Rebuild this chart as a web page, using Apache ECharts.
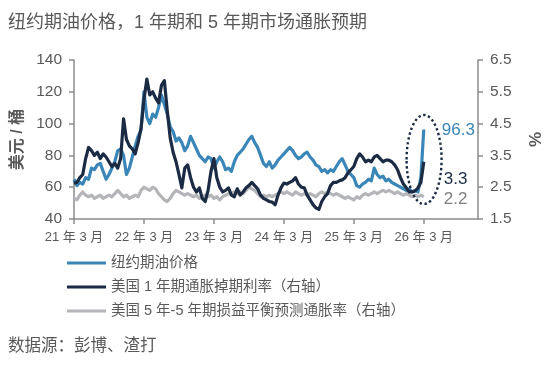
<!DOCTYPE html>
<html><head><meta charset="utf-8">
<script src="https://cdn.jsdelivr.net/npm/echarts@6/dist/echarts.min.js"></script>
<style>html,body{margin:0;padding:0;background:#fff}#c{width:558px;height:378px}</style>
</head><body><div id="c"></div>
<script>
// x tick labels (one per year, March)
const xTickLabels = ['21 年 3 月','22 年 3 月','23 年 3 月','24 年 3 月','25 年 3 月','26 年 3 月'];
// observations are every half month starting Mar 2021
const stepMonths = 0.5;
// NYMEX WTI oil price, USD/bbl (left axis)
const oil = [65,61,63,62,66,65,72,71,74,75,70,65,68,72,76,83,84,80,68,72,
79,86,92,96,120,104,100,106,104,110,118,112,106,98,95,89,91,88,83,86,
92,88,84,80,78,76,79,78,72,76,79,76,71,72,70,76,80,82,84,87,
90,92,88,85,80,75,73,76,72,74,77,79,81,83,85,83,80,78,79,81,
82,79,77,74,73,70,71,69,71,70,73,76,78,74,70,68,66,61,60,62,
63,65,64,72,68,66,67,64,65,63,62,61,60,59,58,59,57,58,57,66,96.3];
// US 1-year inflation swap rate, % (right axis)
const swap1y = [2.63,2.65,2.80,2.90,3.40,3.75,3.65,3.50,3.60,3.40,3.55,3.45,3.30,3.15,3.25,3.10,3.40,4.65,4.00,3.80,
3.70,3.55,3.90,4.35,5.25,5.90,5.40,5.50,5.30,5.15,5.70,5.85,4.90,4.05,3.60,3.30,2.90,2.48,3.10,3.20,
2.80,2.50,2.35,2.48,2.15,2.05,2.40,3.00,3.40,2.80,2.50,2.35,2.40,2.48,2.25,2.20,2.45,2.25,2.35,2.48,
2.55,2.65,2.55,2.45,2.25,2.15,2.10,2.05,2.03,1.95,2.25,2.48,2.63,2.60,2.65,2.70,2.80,2.60,2.50,2.48,
2.25,2.10,1.95,1.85,1.80,2.05,2.20,2.30,2.55,2.65,2.65,2.70,2.73,2.80,2.95,3.05,3.15,3.40,3.55,3.45,
3.30,3.35,3.30,3.45,3.50,3.40,3.30,3.35,3.35,3.30,3.20,3.05,2.80,2.60,2.48,2.35,2.35,2.38,2.48,2.65,3.30];
// US 5y5y breakeven inflation rate, % (right axis)
const be5y5y = [2.15,2.10,2.25,2.35,2.25,2.20,2.25,2.15,2.20,2.25,2.15,2.20,2.25,2.20,2.30,2.40,2.30,2.20,2.25,2.15,
2.20,2.25,2.20,2.40,2.50,2.45,2.40,2.50,2.45,2.30,2.20,2.10,2.05,2.15,2.30,2.40,2.35,2.30,2.25,2.30,
2.25,2.20,2.25,2.15,2.20,2.25,2.20,2.25,2.15,2.20,2.10,2.20,2.25,2.30,2.30,2.35,2.30,2.35,2.30,2.40,
2.50,2.45,2.40,2.30,2.20,2.25,2.20,2.25,2.20,2.25,2.30,2.35,2.30,2.35,2.30,2.25,2.35,2.30,2.25,2.30,
2.25,2.30,2.25,2.20,2.30,2.35,2.30,2.35,2.30,2.25,2.30,2.25,2.20,2.15,2.20,2.15,2.10,2.20,2.15,2.25,
2.30,2.25,2.30,2.35,2.30,2.35,2.40,2.35,2.40,2.35,2.30,2.35,2.30,2.25,2.30,2.25,2.20,2.25,2.20,2.25,2.20];
const leftTicks = {min:40, max:140, interval:20};
const rightTicks = {min:1.5, max:6.5, interval:1};
const names = ['纽约期油价格','美国 1 年期通胀掉期利率（右轴）','美国 5 年-5 年期损益平衡预测通胀率（右轴）'];

const C_BLUE='#3A86B8', C_NAVY='#1C2B44', C_GRAY='#B4B5B8', C_TXT='#595959', C_AX='#8C8C8C';
const FONT='"Liberation Sans", Arial, "Noto Sans CJK SC", sans-serif';
const pair = arr => arr.map((v,i)=>[i*stepMonths, v]);

const chart = echarts.init(document.getElementById('c'), null, {renderer:'canvas'});
const axisCommon = {
  axisLine:{show:true,lineStyle:{color:C_AX,width:1.5}},
  axisTick:{show:true,length:5,lineStyle:{color:C_AX,width:1.5}},
  splitLine:{show:false}
};
chart.setOption({
  animation:false,
  textStyle:{fontFamily:FONT},
  title:[
    {text:'纽约期油价格，1 年期和 5 年期市场通胀预期',left:3,top:9,textStyle:{fontSize:18,fontWeight:'normal',color:C_TXT,fontFamily:FONT}},
    {text:'数据源：彭博、渣打',left:3,top:333,textStyle:{fontSize:16.5,fontWeight:'normal',color:C_TXT,fontFamily:FONT}}
  ],
  grid:{left:74,right:80,top:60,bottom:159,containLabel:false},
  legend:{
    orient:'vertical',left:67,top:255,padding:0,itemGap:8,
    itemWidth:39,itemHeight:3,icon:'rect',
    textStyle:{fontSize:14.5,lineHeight:16,color:C_TXT,fontFamily:FONT},
    data:names
  },
  xAxis:Object.assign({type:'value',min:0,max:69.3,interval:12,
    axisLabel:{margin:12,fontSize:13,color:C_TXT,fontFamily:FONT,showMaxLabel:false,
      formatter:v=>{const k=Math.round(v/12);return Math.abs(v-12*k)<1e-6&&xTickLabels[k]?xTickLabels[k]:'';}}
  },axisCommon),
  yAxis:[
    Object.assign({type:'value',position:'left',min:leftTicks.min,max:leftTicks.max,interval:leftTicks.interval,
      name:'美元 / 桶',nameLocation:'middle',nameGap:46,nameRotate:90,
      nameTextStyle:{fontSize:16,fontWeight:'bold',color:C_TXT,fontFamily:FONT},
      axisLabel:{margin:12,fontSize:15.5,color:C_TXT,fontFamily:FONT}},axisCommon),
    Object.assign({type:'value',position:'right',min:rightTicks.min,max:rightTicks.max,interval:rightTicks.interval,
      name:'%',nameLocation:'middle',nameGap:50,nameRotate:90,
      nameTextStyle:{fontSize:17,fontWeight:'bold',color:C_TXT,fontFamily:FONT},
      axisLabel:{margin:12,fontSize:15.5,color:C_TXT,fontFamily:FONT,formatter:v=>v.toFixed(1)}},axisCommon)
  ],
  series:[
    {name:names[0],type:'line',yAxisIndex:0,data:pair(oil),symbol:'none',z:3,
      lineStyle:{color:C_BLUE,width:3.2,join:'round'},itemStyle:{color:C_BLUE},
      endLabel:{show:true,formatter:'96.3',color:C_BLUE,fontSize:17,fontFamily:FONT,offset:[10,1]}},
    {name:names[1],type:'line',yAxisIndex:1,data:pair(swap1y),symbol:'none',z:4,
      lineStyle:{color:C_NAVY,width:3.2,join:'round'},itemStyle:{color:C_NAVY},
      endLabel:{show:true,formatter:'3.3',color:C_NAVY,fontSize:17,fontFamily:FONT,offset:[12,18]}},
    {name:names[2],type:'line',yAxisIndex:1,data:pair(be5y5y),symbol:'none',z:2,
      lineStyle:{color:C_GRAY,width:3.2,join:'round'},itemStyle:{color:C_GRAY},
      endLabel:{show:true,formatter:'2.2',color:'#7F7F7F',fontSize:17,fontFamily:FONT,offset:[12,3]}}
  ]
});
// dotted ellipse highlighting the latest move
const ctr = chart.convertToPixel({xAxisIndex:0,yAxisIndex:0},[60.05,77.4]);
chart.setOption({graphic:[{type:'ellipse',shape:{cx:ctr[0],cy:ctr[1],rx:17.5,ry:44.5},
  style:{fill:'none',stroke:C_NAVY,lineWidth:2.4,lineDash:[2.4,2.6]},z:10}]});
</script></body></html>
